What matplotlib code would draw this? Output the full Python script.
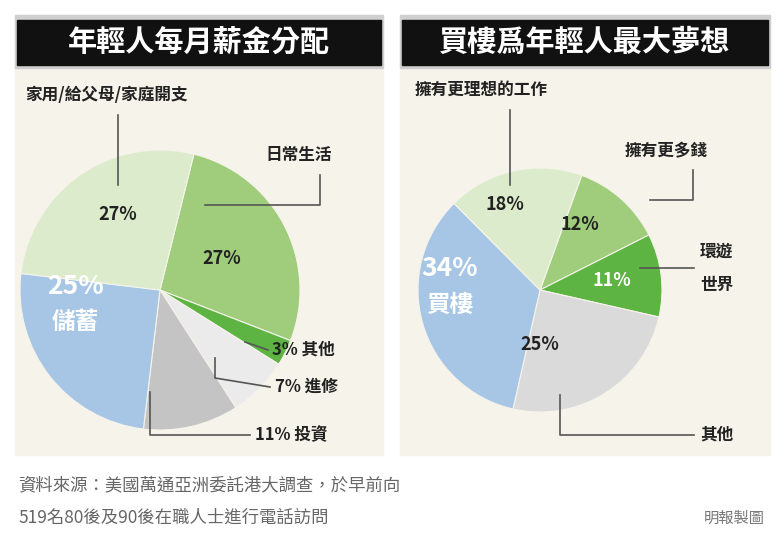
import matplotlib
matplotlib.use("Agg")
import matplotlib.pyplot as plt
from matplotlib.patches import Rectangle

plt.rcParams["font.family"] = ["Noto Sans CJK TC", "DejaVu Sans"]

# 年輕人每月薪金分配 (順時針, 由日常生活開始)
salario_labels = ["日常生活", "其他", "進修", "投資", "儲蓄", "家用/給父母/家庭開支"]
salario_vals = [27, 3, 7, 11, 25, 27]
salario_cores = ["#9fcd7c", "#5db443", "#ebebeb", "#c4c4c4", "#a7c6e6", "#dcebcb"]

# 買樓爲年輕人最大夢想
sonho_labels = ["擁有更多錢", "環遊世界", "其他", "買樓", "擁有更理想的工作"]
sonho_vals = [12, 11, 25, 34, 18]
sonho_cores = ["#9fcd7c", "#5db443", "#dadada", "#a7c6e6", "#dcebcb"]

W, H = 784, 540
fig = plt.figure(figsize=(7.84, 5.4), dpi=100)
ax = fig.add_axes([0, 0, 1, 1])


def Y(y):
    return H - y


def painel(x0, x1, titulo):
    ax.add_patch(Rectangle((x0, Y(455)), x1 - x0, 455 - 15, color="#f6f3ea", zorder=0))
    ax.add_patch(Rectangle((x0, Y(68)), x1 - x0, 68 - 15, color="#cfcfcf", zorder=1))
    ax.add_patch(Rectangle((x0 + 2, Y(65)), x1 - x0 - 4, 65 - 20, color="#111111", zorder=1))
    ax.text((x0 + x1) / 2, Y(42), titulo, color="white", fontsize=21, fontweight="bold",
            ha="center", va="center", zorder=2)


def linha(pts):
    xs = [p[0] for p in pts]
    ys = [Y(p[1]) for p in pts]
    ax.plot(xs, ys, color="#555555", lw=1.2, zorder=4)


def txt(x, y, s, size=12, color="#222222", ha="left"):
    ax.text(x, Y(y), s, fontsize=size, color=color, fontweight="bold",
            ha=ha, va="center", zorder=5)


painel(15, 383, "年輕人每月薪金分配")
painel(400, 770, "買樓爲年輕人最大夢想")

ax.pie(salario_vals, colors=salario_cores, startangle=76, counterclock=False,
       center=(160, Y(290)), radius=140, frame=True,
       wedgeprops=dict(linewidth=0.8, edgecolor="#f6f3ea"))
ax.pie(sonho_vals, colors=sonho_cores, startangle=70, counterclock=False,
       center=(540, Y(290)), radius=122, frame=True,
       wedgeprops=dict(linewidth=0.8, edgecolor="#f6f3ea"))
ax.set_xlim(0, W)
ax.set_ylim(0, H)
ax.set_aspect("auto")
ax.axis("off")

# rótulos do painel esquerdo
txt(25, 95, "家用/給父母/家庭開支", 12)
linha([(118, 115), (118, 185)])
txt(265, 155, "日常生活", 12)
linha([(320, 175), (320, 205), (205, 205)])
txt(272, 350, f"{salario_vals[1]}% 其他", 12)
linha([(268, 350), (245, 342)])
txt(275, 387, f"{salario_vals[2]}% 進修", 12)
linha([(270, 387), (215, 378), (215, 358)])
txt(255, 435, f"{salario_vals[3]}% 投資", 12)
linha([(250, 435), (150, 435), (150, 392)])
txt(118, 215, f"{salario_vals[5]}%", 13, ha="center")
txt(222, 258, f"{salario_vals[0]}%", 13, ha="center")
txt(75, 287, f"{salario_vals[4]}%", 19, color="white", ha="center")
txt(75, 322, "儲蓄", 17, color="white", ha="center")

# rótulos do painel direito
txt(415, 90, "擁有更理想的工作", 12)
linha([(510, 110), (510, 185)])
txt(625, 150, "擁有更多錢", 12)
linha([(693, 170), (693, 200), (650, 200)])
txt(700, 252, "環遊", 12)
txt(700, 285, "世界", 12)
linha([(694, 268), (640, 268)])
txt(700, 435, "其他", 12)
linha([(694, 435), (560, 435), (560, 395)])
txt(505, 205, f"{sonho_vals[4]}%", 13, ha="center")
txt(580, 225, f"{sonho_vals[0]}%", 13, ha="center")
txt(612, 280, f"{sonho_vals[1]}%", 13, color="white", ha="center")
txt(540, 345, f"{sonho_vals[2]}%", 13, ha="center")
txt(450, 268, f"{sonho_vals[3]}%", 19, color="white", ha="center")
txt(450, 305, "買樓", 17, color="white", ha="center")

# rodapé
ax.text(18, Y(485), "資料來源：美國萬通亞洲委託港大調查，於早前向", fontsize=12.5,
        color="#666666", va="center")
ax.text(18, Y(518), "519名80後及90後在職人士進行電話訪問", fontsize=12.5,
        color="#666666", va="center")
ax.text(765, Y(518), "明報製圖", fontsize=11, color="#777777", va="center", ha="right")

fig.savefig("out.png", dpi=100, facecolor="white")
